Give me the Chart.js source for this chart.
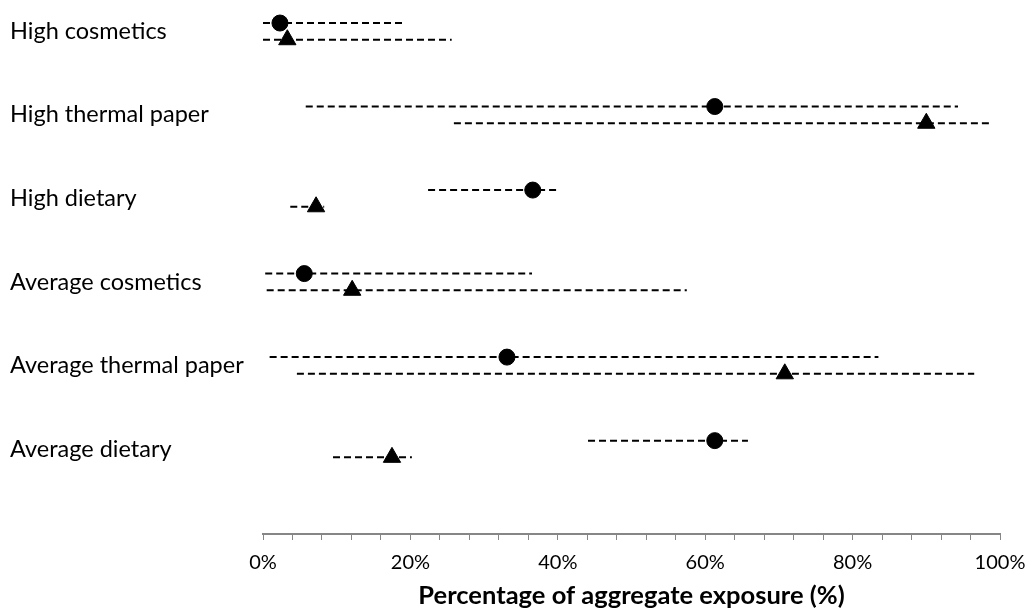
<!DOCTYPE html>
<html>
<head>
<meta charset="utf-8">
<script src="https://cdn.jsdelivr.net/npm/chart.js@4/dist/chart.umd.min.js"></script>
<style>
  html, body { margin: 0; padding: 0; background: #fff; }
  #wrap { width: 1026px; height: 610px; }
</style>
</head>
<body>
<div id="wrap"><canvas id="chart"></canvas></div>
<script>
// categories, top to bottom
const categories = ["High cosmetics", "High thermal paper", "High dietary",
  "Average cosmetics", "Average thermal paper", "Average dietary"];

// circle series (%)
const circleValues = [2.3, 61.3, 36.6, 5.6, 33.1, 61.3];
const circleLow = [0, 5.8, 22.4, 0.3, 0.9, 44.1];
const circleHigh = [18.9, 94.3, 39.8, 36.5, 83.5, 65.8];

// triangle series (%)
const triangleValues = [3.3, 90.0, 7.2, 12.1, 70.8, 17.5];
const triangleLow = [0, 25.9, 3.7, 0.5, 4.6, 9.5];
const triangleHigh = [25.6, 99.0, 8.3, 57.5, 96.5, 20.2];

const xTicks = [0, 20, 40, 60, 80, 100];

const FONT = "Lato, 'Open Sans', sans-serif";
const n = categories.length;
const catY = i => n - i;          // top category gets the highest value
const offset = 0.1;

const datasets = [];

// markers first (drawn on top)
datasets.push({
  label: "circle",
  data: circleValues.map((v, i) => ({ x: v, y: catY(i) + offset })),
  pointStyle: "circle",
  pointRadius: 8,
  backgroundColor: "#000",
  borderColor: "#000",
  showLine: false,
  order: 0
});
datasets.push({
  label: "triangle",
  data: triangleValues.map((v, i) => ({ x: v, y: catY(i) - offset })),
  pointStyle: "triangle",
  pointRadius: 10,
  backgroundColor: "#000",
  borderColor: "#000",
  showLine: false,
  order: 0
});

// dashed ranges
circleLow.forEach((lo, i) => {
  datasets.push({
    data: [{ x: lo, y: catY(i) + offset }, { x: circleHigh[i], y: catY(i) + offset }],
    showLine: true, pointRadius: 0, borderColor: "#000", borderWidth: 2,
    borderDash: [7, 4], order: 1
  });
});
triangleLow.forEach((lo, i) => {
  datasets.push({
    data: [{ x: lo, y: catY(i) - offset }, { x: triangleHigh[i], y: catY(i) - offset }],
    showLine: true, pointRadius: 0, borderColor: "#000", borderWidth: 2,
    borderDash: [7, 4], order: 1
  });
});

const axisGray = "#868686";

new Chart(document.getElementById("chart"), {
  type: "scatter",
  data: { datasets },
  options: {
    responsive: true,
    maintainAspectRatio: false,
    animation: false,
    clip: false,
    layout: { padding: { top: 8, left: 10, right: 26, bottom: 0 } },
    plugins: { legend: { display: false }, tooltip: { enabled: false } },
    scales: {
      x: {
        type: "linear",
        min: 0,
        max: 100,
        afterBuildTicks: s => {
          const t = [];
          for (let v = 0; v <= 100; v += 4) t.push({ value: v });
          s.ticks = t;
        },
        afterFit: s => {
          s.height = 76;
          s.paddingLeft = 0;
          s.paddingRight = 0;
        },
        grid: {
          drawOnChartArea: false,
          drawTicks: true,
          tickLength: 6,
          color: axisGray
        },
        border: { display: true, color: axisGray, width: 2 },
        ticks: {
          autoSkip: false,
          maxRotation: 0,
          padding: 11,
          color: "#000",
          font: { family: FONT, size: 20 },
          callback: v => xTicks.includes(v) ? v + "%" : ""
        },
        title: {
          display: true,
          text: "Percentage of aggregate exposure (%)",
          color: "#000",
          font: { family: FONT, size: 25.5, weight: "bold", lineHeight: 1.1 },
          padding: { top: 0, bottom: 0 }
        }
      },
      y: {
        type: "linear",
        min: -0.018,
        max: 6.244,
        afterBuildTicks: s => {
          s.ticks = categories.map((c, i) => ({ value: catY(i) }));
        },
        afterFit: s => {
          s.width = 253;
          s.paddingTop = 0;
          s.paddingBottom = 0;
        },
        grid: { display: false, drawTicks: false },
        border: { display: false },
        ticks: {
          crossAlign: "far",
          color: "#000",
          font: { family: FONT, size: 23.5 },
          callback: v => categories[n - v]
        }
      }
    }
  }
});
</script>
</body>
</html>
